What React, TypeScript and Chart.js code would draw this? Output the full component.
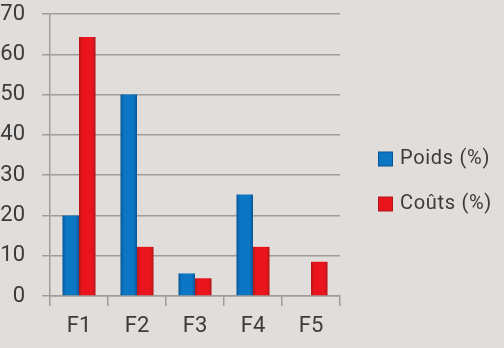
import React, { useEffect, useRef } from "react";
import { Chart, registerables } from "chart.js";

Chart.register(...registerables);

const categories = ["F1", "F2", "F3", "F4", "F5"];
const poids = [20, 50, 5.6, 25.2, 0];
const couts = [64.3, 12.2, 4.4, 12.2, 8.5];
const seriesNames = ["Poids (%)", "Coûts (%)"];
const yTicks = [0, 10, 20, 30, 40, 50, 60, 70];

const BG = "#e1ddda";
const GRID = "#a09c99";
const TEXT = "#3b3b3b";
const MAIN = ["#0a76c4", "#ea141c"];
const EDGE = ["#0c5594", "#b5161c"];
const FONT = "Roboto, 'Noto Sans', sans-serif";

const shadePlugin = {
  id: "shade",
  beforeDatasetsDraw(chart: any) {
    const ctx = chart.ctx;
    chart.data.datasets.forEach((_ds: any, di: number) => {
      const meta = chart.getDatasetMeta(di);
      meta.data.forEach((el: any) => {
        const { x, width } = el.getProps(["x", "width"], true);
        if (!isFinite(x) || !isFinite(width) || width <= 0) return;
        const g = ctx.createLinearGradient(x - width / 2, 0, x + width / 2, 0);
        g.addColorStop(0, EDGE[di]);
        g.addColorStop(0.2, MAIN[di]);
        g.addColorStop(0.8, MAIN[di]);
        g.addColorStop(1, EDGE[di]);
        try {
          el.options.backgroundColor = g;
        } catch (e) {}
      });
    });
  },
};

const legendPlugin = {
  id: "sideLegend",
  afterDraw(chart: any) {
    const ctx = chart.ctx;
    ctx.save();
    chart.data.datasets.forEach((ds: any, i: number) => {
      const cy = 159 + i * 45;
      ctx.fillStyle = EDGE[i];
      ctx.fillRect(378, cy - 7.5, 15, 15);
      ctx.fillStyle = MAIN[i];
      ctx.fillRect(379, cy - 6.5, 13, 13);
      ctx.fillStyle = TEXT;
      ctx.font = `20px ${FONT}`;
      try {
        (ctx as any).letterSpacing = "0.7px";
      } catch (e) {}
      ctx.textBaseline = "middle";
      ctx.textAlign = "left";
      ctx.fillText(ds.label, 400, cy);
    });
    ctx.restore();
  },
};

export default function App() {
  const ref = useRef<HTMLCanvasElement>(null);
  useEffect(() => {
    if (!ref.current) return;
    const chart = new Chart(ref.current, {
      type: "bar",
      data: {
        labels: categories,
        datasets: [
          {
            label: seriesNames[0],
            data: poids,
            backgroundColor: () => MAIN[0],
            borderWidth: 0,
            categoryPercentage: 0.57,
            barPercentage: 1,
          },
          {
            label: seriesNames[1],
            data: couts,
            backgroundColor: () => MAIN[1],
            borderWidth: 0,
            categoryPercentage: 0.57,
            barPercentage: 1,
          },
        ],
      },
      options: {
        responsive: false,
        animation: false,
        layout: { padding: { top: 0, right: 164, bottom: 0, left: 0 } },
        plugins: {
          legend: { display: false },
          tooltip: { enabled: false },
        },
        scales: {
          x: {
            offset: true,
            afterFit: (axis: any) => {
              axis.height = 52;
              axis.paddingLeft = 0;
              axis.paddingRight = 0;
            },
            grid: {
              display: true,
              offset: true,
              drawOnChartArea: false,
              drawTicks: true,
              tickLength: 10,
              color: GRID,
              lineWidth: 1.5,
            },
            border: { display: true, color: GRID, width: 1.5 },
            ticks: { color: TEXT, font: { family: FONT, size: 22 }, padding: 7 },
          },
          y: {
            min: 0,
            max: 70,
            afterBuildTicks: (axis: any) => {
              axis.ticks = yTicks.map((v) => ({ value: v }));
            },
            afterFit: (axis: any) => {
              axis.width = 50;
              axis.paddingTop = 14;
              axis.paddingBottom = 0;
            },
            grid: { color: GRID, lineWidth: 1.5, tickLength: 8 },
            border: { display: true, color: GRID, width: 1.5 },
            ticks: { color: TEXT, font: { family: FONT, size: 22 }, padding: 17 },
          },
        },
      },
      plugins: [shadePlugin, legendPlugin],
    });
    return () => chart.destroy();
  }, []);
  return (
    <div style={{ position: "fixed", left: 0, top: 0, width: 504, height: 348, background: BG }}>
      <canvas ref={ref} width={504} height={348} />
    </div>
  );
}
